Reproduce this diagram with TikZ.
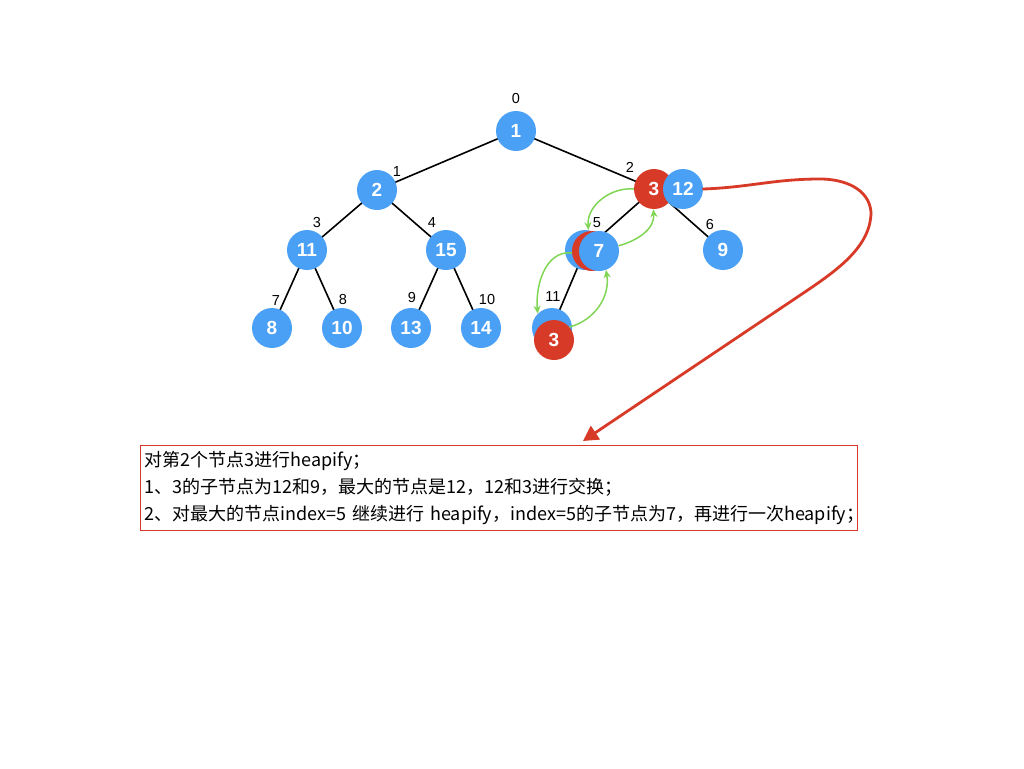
\documentclass[tikz,border=0pt]{standalone}
\usepackage{fontspec}
\setmainfont{Liberation Sans}
\newfontfamily\cjk{Noto Sans CJK SC}
\usetikzlibrary{arrows.meta,backgrounds}
\definecolor{nblue}{RGB}{74,160,245}
\definecolor{nred}{RGB}{216,58,40}
\definecolor{ngreen}{RGB}{128,214,84}
\begin{document}
\begin{tikzpicture}[x=1pt,y=1pt,
  bn/.style={circle,fill=nblue,minimum size=40pt,inner sep=0pt,text=white,font=\bfseries\fontsize{19}{19}\selectfont},
  rn/.style={bn,fill=nred},
  idx/.style={font=\fontsize{14.5}{14.5}\selectfont,inner sep=0pt},
  edge/.style={line width=1.6pt,black},
  garrow/.style={ngreen,line width=1.5pt,-{Stealth[length=8pt,width=7pt]}},
  rarrow/.style={nred,line width=2.8pt,line cap=round,-{Triangle[length=15pt,width=16pt]}},
  textbox/.style={draw=nred,line width=0.8pt,rectangle,minimum width=717pt,minimum height=85pt,
    text width=709pt,inner xsep=4pt,inner ysep=0pt,align=left,anchor=north west,
    font=\cjk\fontsize{18}{27}\selectfont}]
\useasboundingbox (0,0) rectangle (1024,-768);
% nodes
\node[bn] (n0) at (516,-131) {1};
\node[bn] (n1) at (377,-190) {2};
\node[bn] (n3) at (307,-250) {11};
\node[bn] (n4) at (446,-250) {15};
\node[bn] (n7) at (272,-328) {8};
\node[bn] (n8) at (342,-328) {10};
\node[bn] (n9) at (411,-328) {13};
\node[bn] (n10) at (481,-328) {14};
\node[rn] (r2) at (654,-189) {3};
\node[bn] (b12) at (683,-189) {12};
\node[bn] (n6) at (723,-250) {9};
\node[bn] (b5) at (585,-250) {};
\node[rn] (r5) at (592,-251) {};
\node[bn] (f7) at (599,-251) {7};
\node[bn] (b11) at (552,-328) {};
\node[rn] (r11) at (554,-340) {3};
% edges
\begin{pgfonlayer}{background}
\draw[edge] (n0.center) -- (n1.center);
\draw[edge] (n0.center) -- (r2.center);
\draw[edge] (n1.center) -- (n3.center);
\draw[edge] (n1.center) -- (n4.center);
\draw[edge] (n3.center) -- (n7.center);
\draw[edge] (n3.center) -- (n8.center);
\draw[edge] (n4.center) -- (n9.center);
\draw[edge] (n4.center) -- (n10.center);
\draw[edge] (r2.center) -- (b5.center);
\draw[edge] (r2.center) -- (n6.center);
\draw[edge] (b5.center) -- (b11.center);
\end{pgfonlayer}
% index labels
\node[idx] (i0) at (516,-99) {0};
\node[idx] (i1) at (397,-172) {1};
\node[idx] (i2) at (630,-167) {2};
\node[idx] (i3) at (317,-223) {3};
\node[idx] (i4) at (432,-223) {4};
\node[idx] (i5) at (597,-223) {5};
\node[idx] (i6) at (710,-225) {6};
\node[idx] (i7) at (276,-301) {7};
\node[idx] (i8) at (343,-300) {8};
\node[idx] (i9) at (412,-298) {9};
\node[idx] (i10) at (487,-300) {10};
\node[idx] (i11) at (553,-297) {11};
% green arrows
\draw[garrow] (r2.180) to[out=175,in=95] (b5.80);
\draw[garrow] (f7.15) to[out=15,in=-85] (r2.268);
\draw[garrow] (r5.185) to[out=175,in=95] (b11.135);
\draw[garrow] (r11.40) to[out=15,in=-80] (f7.-70);
% text box
\node[textbox] (tb) at (140,-445) {对第2个节点3进行heapify；\\1、3的子节点为12和9，最大的节点是12，12和3进行交换；\\2、对最大的节点index=5 继续进行 heapify，index=5的子节点为7，再进行一次heapify；};
% red arrow
\coordinate (rtip) at (583,-441);
\draw[rarrow] (b12.east) to[out=2,in=180] (820,-179) to[out=0,in=95] (871,-212)
  .. controls (871,-250) and (830,-275) .. (793,-300) -- (rtip);
\end{tikzpicture}
\end{document}
